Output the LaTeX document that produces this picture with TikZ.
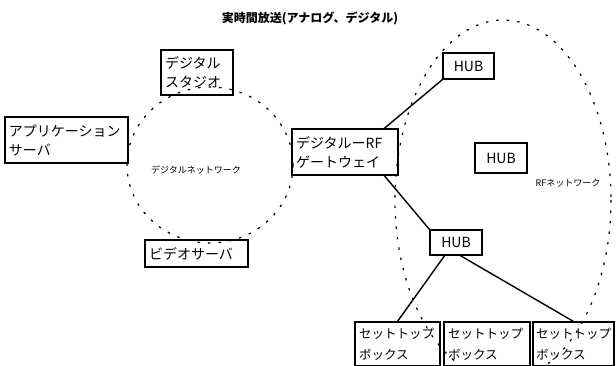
\documentclass[tikz,border=0pt]{standalone}
\usepackage{fontspec}
\setmainfont{Noto Sans CJK JP}
\begin{document}
\begin{tikzpicture}[x=1pt,y=-1pt,
  box/.style={draw, line width=1.1pt, align=left, inner xsep=4pt, inner ysep=2pt, font=\fontsize{14}{19}\selectfont},
  stb/.style={draw, line width=1.1pt, align=left, inner xsep=4pt, inner ysep=2pt, font=\fontsize{12.5}{21}\selectfont},
  hub/.style={draw, line width=1.1pt, align=center, inner sep=0pt, font=\fontsize{14}{16}\selectfont},
  link/.style={line width=1.4pt},
  netline/.style={line width=1.2pt, dash pattern=on 2.5pt off 8pt},
  lbl/.style={inner sep=0pt, font=\fontsize{9}{11}\selectfont}]
\useasboundingbox (0,0) rectangle (616,365);
% network areas
\draw[netline] (210,165) ellipse [x radius=83, y radius=78];
\draw[netline] (503,200) ellipse [x radius=108, y radius=180];
% title and labels
\node[font=\bfseries\fontsize{12}{14}\selectfont] (title) at (310,18) {実時間放送(アナログ、デジタル)};
\node[lbl] (dnet) at (196,170) {デジタルネットワーク};
\node[lbl] (rfnet) at (568,183) {RFネットワーク};
% boxes
\node[box, text width=64pt, minimum height=45pt] (studio) at (197,72.5) {デジタル\\スタジオ};
\node[box, text width=115pt, minimum height=46pt] (app) at (66.5,140) {アプリケーション\\サーバ};
\node[box, text width=95pt, minimum height=27pt] (video) at (196.5,253.5) {ビデオサーバ};
\node[box, text width=98pt, minimum height=46pt] (gw) at (345,152) {デジタルーRF\\ゲートウェイ};
\node[hub, minimum width=51pt, minimum height=26pt] (hubT) at (468.5,66) {HUB};
\node[hub, minimum width=52pt, minimum height=30pt] (hubM) at (501,158) {HUB};
\node[hub, minimum width=52pt, minimum height=25pt] (hubB) at (456,242.5) {HUB};
\node[stb, text width=77pt, minimum height=44pt] (stb1) at (397.5,344) {セットトップ\\ボックス};
\node[stb, text width=78pt, minimum height=44pt] (stb2) at (487,344) {セットトップ\\ボックス};
\node[stb, text width=75pt, inner xsep=3pt, minimum height=44pt] (stb3) at (573.5,344) {セットトップ\\ボックス};
% connectors
\draw[link] (gw.31) -- (hubT.south west);
\draw[link] (gw.-31) -- (hubB.north west);
\draw[link] (hubB.229) -- (stb1.north);
\draw[link] (hubB.-72) -- (stb3.north);
\end{tikzpicture}
\end{document}
